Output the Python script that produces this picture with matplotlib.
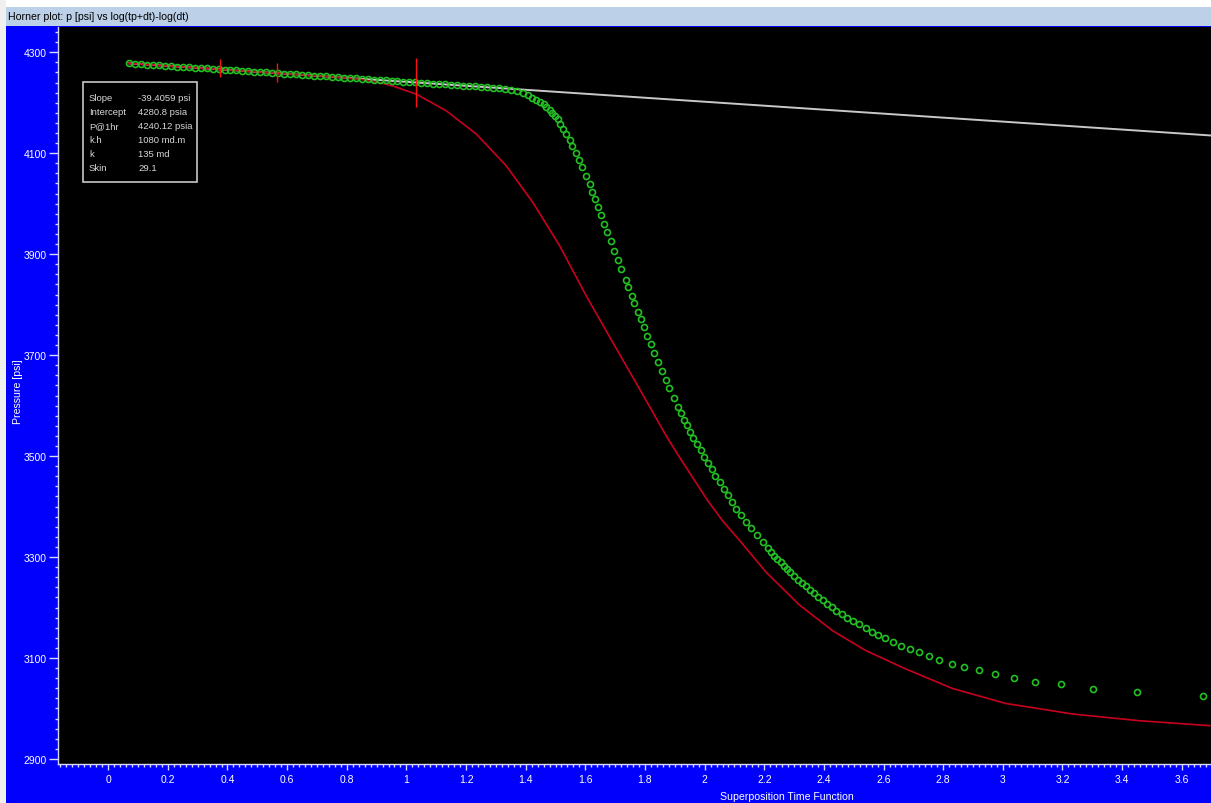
import matplotlib.pyplot as plt
from matplotlib.ticker import MultipleLocator
from matplotlib.patches import Rectangle

plt.rcParams['font.family'] = ['Liberation Sans', 'DejaVu Sans']

# measured points (superposition time, pressure psi)
green_x = [0.07, 0.09, 0.11, 0.13, 0.15, 0.17, 0.19, 0.21, 0.23, 0.25, 0.27, 0.29,
           0.31, 0.33, 0.35, 0.37, 0.39, 0.41, 0.43, 0.45, 0.47, 0.49, 0.51, 0.53,
           0.55, 0.57, 0.59, 0.61, 0.63, 0.65, 0.67, 0.69, 0.71, 0.73, 0.75, 0.77,
           0.79, 0.81, 0.83, 0.85, 0.87, 0.89, 0.91, 0.93, 0.95, 0.97, 0.99, 1.01,
           1.03, 1.05, 1.07, 1.09, 1.11, 1.13, 1.15, 1.17, 1.19, 1.21, 1.23, 1.25,
           1.27, 1.29, 1.31, 1.33, 1.35, 1.37,
           1.391, 1.408, 1.422, 1.436, 1.449, 1.460, 1.469, 1.480, 1.489, 1.498,
           1.508, 1.516, 1.525, 1.534, 1.547, 1.556, 1.567, 1.578, 1.590, 1.603,
           1.614, 1.622, 1.632, 1.643, 1.652, 1.663, 1.674, 1.686, 1.697, 1.709,
           1.721, 1.735, 1.744, 1.755, 1.764, 1.775, 1.786, 1.796, 1.807, 1.820,
           1.831, 1.844, 1.856, 1.871, 1.882, 1.897, 1.911, 1.922, 1.931, 1.940,
           1.952, 1.962, 1.974, 1.987, 1.999, 2.011, 2.024, 2.036, 2.051, 2.065,
           2.079, 2.093, 2.106, 2.122, 2.140, 2.157, 2.175, 2.195, 2.213, 2.223,
           2.233, 2.244, 2.255, 2.266, 2.276, 2.287, 2.301, 2.313, 2.327, 2.340,
           2.354, 2.367, 2.381, 2.396, 2.412, 2.427, 2.442, 2.461, 2.478, 2.498,
           2.518, 2.540, 2.560, 2.583, 2.606, 2.631, 2.660, 2.689, 2.718, 2.753,
           2.787, 2.828, 2.871, 2.920, 2.973, 3.036, 3.109, 3.195, 3.302, 3.449,
           3.670]
green_p = [4278.0, 4277.3, 4276.5, 4275.7, 4274.9, 4274.1, 4273.3, 4272.5, 4271.7,
           4270.9, 4270.2, 4269.4, 4268.6, 4267.8, 4267.0, 4266.2, 4265.4, 4264.6,
           4263.9, 4263.1, 4262.3, 4261.5, 4260.7, 4259.9, 4259.1, 4258.3, 4257.5,
           4256.8, 4256.0, 4255.2, 4254.4, 4253.6, 4252.8, 4252.0, 4251.2, 4250.5,
           4249.7, 4248.9, 4248.1, 4247.3, 4246.5, 4245.7, 4244.9, 4244.1, 4243.4,
           4242.6, 4241.8, 4241.0, 4240.2, 4239.4, 4238.6, 4237.8, 4237.1, 4236.3,
           4235.5, 4234.7, 4233.9, 4233.1, 4232.3, 4231.5, 4230.7, 4229.9, 4228.8,
           4227.6, 4225.8, 4223.5,
           4220.2, 4214.9, 4210.3, 4205.5, 4201.6, 4197.0, 4191.7, 4185.7, 4179.2,
           4173.9, 4167.3, 4157.4, 4147.5, 4139.0, 4126.3, 4113.3, 4100.0, 4086.7,
           4072.3, 4055.1, 4039.3, 4024.1, 4009.6, 3994.4, 3977.2, 3960.7, 3943.6,
           3925.7, 3906.6, 3888.1, 3869.7, 3849.2, 3834.0, 3817.5, 3802.3, 3785.8,
           3771.3, 3754.8, 3737.0, 3721.2, 3703.9, 3685.4, 3668.9, 3650.5, 3634.0,
           3614.9, 3597.6, 3585.1, 3572.0, 3560.8, 3548.1, 3536.3, 3523.8, 3511.2,
           3498.7, 3486.8, 3473.6, 3460.4, 3447.9, 3434.7, 3422.2, 3408.9, 3396.0,
           3383.2, 3369.9, 3356.8, 3343.6, 3330.3, 3317.2, 3309.3, 3302.6, 3296.0,
           3289.5, 3282.8, 3276.2, 3269.7, 3261.7, 3255.0, 3248.5, 3241.9, 3235.2,
           3228.7, 3221.4, 3214.9, 3206.9, 3200.4, 3193.7, 3187.1, 3179.8, 3173.9,
           3166.7, 3159.4, 3152.1, 3146.1, 3139.0, 3131.7, 3124.4, 3117.8, 3111.3,
           3103.4, 3096.0, 3088.7, 3082.8, 3075.6, 3068.3, 3060.4, 3053.1, 3047.9,
           3038.6, 3032.7, 3025.3]

# model curve
model_x = [0.067, 0.476, 0.777, 0.850, 0.911, 0.954, 1.034, 1.134, 1.235, 1.335,
           1.424, 1.514, 1.603, 1.692, 1.782, 1.871, 1.916, 2.010, 2.060, 2.117,
           2.206, 2.318, 2.429, 2.541, 2.675, 2.831, 3.010, 3.233, 3.456, 3.694]
model_p = [4278.2, 4262.0, 4250.2, 4246.0, 4239.5, 4233.3, 4216.8, 4183.8, 4137.6,
           4074.9, 4002.4, 3916.4, 3817.4, 3725.1, 3632.7, 3540.2, 3497.4, 3412.0,
           3372.0, 3333.0, 3270.0, 3205.0, 3154.1, 3114.5, 3078.2, 3039.6, 3009.9,
           2989.1, 2975.8, 2965.9]

# horner straight line
line_x = [0.07, 3.70]
line_p = [4278.0, 4135.0]

# red markers on the line
cross_x = [0.375, 0.566, 1.033]
cross_lo = [4250.5, 4240.6, 4191.1]
cross_hi = [4286.1, 4278.2, 4288.1]

info_names = ['Slope', 'Intercept', 'P@1hr', 'k.h', 'k', 'Skin']
info_vals = ['-39.4059 psi', '4280.8 psia', '4240.12 psia', '1080 md.m', '135 md', '29.1']

W, H = 1211, 804
fig = plt.figure(figsize=(W / 100, H / 100), dpi=100, facecolor='#0000fc')

def px_rect(x0, y0, x1, y1, color):
    fig.patches.append(Rectangle((x0 / W, 1 - y1 / H), (x1 - x0) / W, (y1 - y0) / H,
                                 transform=fig.transFigure, facecolor=color,
                                 edgecolor='none', zorder=0))

px_rect(0, 0, W, 8, '#ffffff')
px_rect(0, 0, 6, H, '#f0f0f0')
px_rect(6, 8, W, 27, '#bcd0e8')
fig.text(8 / W, 1 - 17.5 / H, 'Horner plot: p [psi] vs log(tp+dt)-log(dt)',
         color='black', fontsize=7.6, va='center', ha='left')

ax = fig.add_axes([57.5 / W, 1 - 765 / H, (W - 57.5) / W, (765 - 28) / H])
ax.set_facecolor('black')

ax.plot(line_x, line_p, color='#c8c8c8', lw=1.4, zorder=2)
ax.plot(model_x, model_p, color='#c8001e', lw=1.2, zorder=3)
ax.plot(green_x, green_p, ls='none', marker='o', ms=4.3, mfc='none',
        mec='#22c022', mew=1.2, zorder=4)
ax.vlines(cross_x, cross_lo, cross_hi, color='#ff1010', lw=1.0, zorder=5)

ax.set_xlim(-0.170, 3.698)
ax.set_ylim(2890, 4350)
ax.xaxis.set_major_locator(MultipleLocator(0.2))
ax.xaxis.set_minor_locator(MultipleLocator(0.02))
ax.yaxis.set_major_locator(MultipleLocator(200, offset=100))
ax.yaxis.set_minor_locator(MultipleLocator(20))
ax.xaxis.set_major_formatter(plt.FuncFormatter(
    lambda v, p: ('%.1f' % v).rstrip('0').rstrip('.') if abs(v) > 1e-9 else '0'))

for s in ['top', 'right']:
    ax.spines[s].set_visible(False)
for s in ['left', 'bottom']:
    ax.spines[s].set_color('#d8d8ff')
    ax.spines[s].set_linewidth(1.0)

ax.tick_params(axis='x', which='major', length=4.5, width=1, color='#d8d8ff',
               labelcolor='white', labelsize=7.5, pad=3)
ax.tick_params(axis='x', which='minor', length=2.2, width=1, color='#d8d8ff')
ax.tick_params(axis='y', which='major', length=6.5, width=1, color='#d8d8ff',
               labelcolor='white', labelsize=7.5, pad=1)
ax.tick_params(axis='y', which='minor', length=2.2, width=1, color='#d8d8ff')

fig.text(787 / W, 1 - 797 / H, 'Superposition Time Function', color='white',
         fontsize=7.6, ha='center', va='center')
fig.text(18 / W, 1 - 392 / H, 'Pressure [psi]', color='white', fontsize=7.6,
         ha='center', va='center', rotation=90)

# results box
fig.patches.append(Rectangle((83 / W, 1 - 183 / H), 114 / W, 100 / H,
                             transform=fig.transFigure, facecolor='black',
                             edgecolor='#c8c8c8', lw=1.2, zorder=10))
for i, (n, v) in enumerate(zip(info_names, info_vals)):
    yy = 1 - (98.7 + i * 13.9) / H
    fig.text(89 / W, yy, n, color='#d8d8d8', fontsize=6.8, va='center', zorder=11)
    fig.text(138 / W, yy, v, color='#d8d8d8', fontsize=6.8, va='center', zorder=11)

fig.savefig('out.png', dpi=100, facecolor=fig.get_facecolor())
